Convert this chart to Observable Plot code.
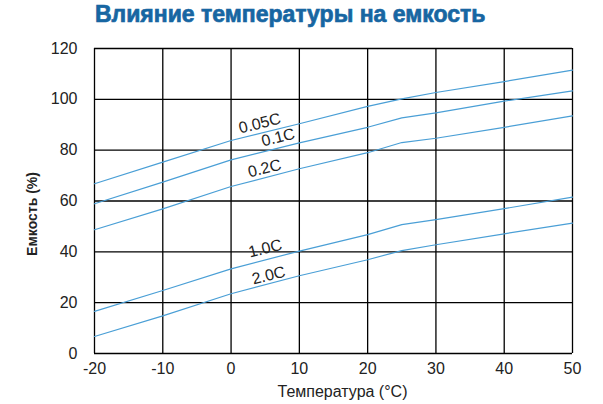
<!DOCTYPE html>
<html><head><meta charset="utf-8">
<script src="https://cdn.jsdelivr.net/npm/d3@7"></script>
<script src="https://cdn.jsdelivr.net/npm/@observablehq/plot@0.6"></script>
<style>
body{margin:0;background:#fff;font-family:"Liberation Sans",Arial,sans-serif;width:603px;height:404px;overflow:hidden;}
#title{position:relative;height:30px;line-height:28px;font-size:23px;font-weight:bold;color:#1766a2;white-space:nowrap;-webkit-text-stroke:0.7px #1766a2;}
#title span{position:absolute;left:95px;top:0;}
</style></head><body>
<div id="title"><span>Влияние температуры на емкость</span></div>
<div id="chart"></div>
<script>
const temps = [-20, -10, 0, 10, 20, 25, 30, 40, 50];
const rates = ["0.05C", "0.1C", "0.2C", "1.0C", "2.0C"];
const cap005 = [66.8, 75.3, 83.8, 90.4, 97.2, 100.2, 102.7, 107.0, 111.5];
const cap01  = [58.9, 67.4, 76.2, 82.9, 89.0, 92.7, 94.7, 99.3, 103.3];
const cap02  = [48.7, 56.9, 65.7, 72.7, 79.0, 83.0, 84.7, 89.0, 93.5];
const cap10  = [16.6, 24.8, 33.3, 40.3, 46.8, 50.7, 52.7, 57.0, 61.5];
const cap20  = [6.7, 14.8, 23.5, 30.6, 36.9, 40.5, 42.8, 47.1, 51.3];
const labelTemp = [4.2, 6.9, 4.9, 5.0, 5.5];
const labelCap  = [90.5, 85.0, 72.8, 41.3, 30.7];
const xTicks = [-20, -10, 0, 10, 20, 30, 40, 50];
const yTicks = [0, 20, 40, 60, 80, 100, 120];
const xLabel = "Температура (°C)";
const yLabel = "Емкость (%)";

const series = [cap005, cap01, cap02, cap10, cap20];
const rows = [];
series.forEach((vals, i) => vals.forEach((v, j) => rows.push({rate: rates[i], temp: temps[j], cap: v})));
const labels = rates.map((r, i) => ({rate: r, temp: labelTemp[i], cap: labelCap[i]}));

const chart = Plot.plot({
  width: 603,
  height: 374,
  marginTop: 18,
  marginBottom: 51,
  marginLeft: 94,
  marginRight: 31,
  style: {fontFamily: "Liberation Sans, Arial, sans-serif", fontSize: "16px", color: "#222", background: "#fff"},
  x: {domain: [-20, 50]},
  y: {domain: [0, 120]},
  marks: [
    Plot.gridX(xTicks, {stroke: "#000", strokeOpacity: 1, strokeWidth: 1.3}),
    Plot.gridY(yTicks, {stroke: "#000", strokeOpacity: 1, strokeWidth: 1.3}),
    Plot.line(rows, {x: "temp", y: "cap", z: "rate", stroke: "#4a9fd6", strokeWidth: 1.2}),
    Plot.text(labels, {x: "temp", y: "cap", text: "rate", rotate: -14, fontSize: 16, fill: "#222"}),
    Plot.axisX(xTicks, {tickSize: 0, tickPadding: 9, fontSize: 16, tickFormat: d => String(d), label: null}),
    Plot.axisY(yTicks, {tickSize: 0, tickPadding: 17, fontSize: 16, tickFormat: d => String(d), label: null}),
    Plot.text([xLabel], {text: d => d, frameAnchor: "bottom", textAnchor: "middle", lineAnchor: "middle", dx: 9, dy: 38, fontSize: 16, fill: "#222"}),
    Plot.text([yLabel], {text: d => d, frameAnchor: "left", textAnchor: "middle", lineAnchor: "middle", rotate: -90, dx: -62, dy: 13, fontSize: 14, fontWeight: "bold", fill: "#222"})
  ]
});
document.getElementById("chart").appendChild(chart);
</script>
</body></html>
